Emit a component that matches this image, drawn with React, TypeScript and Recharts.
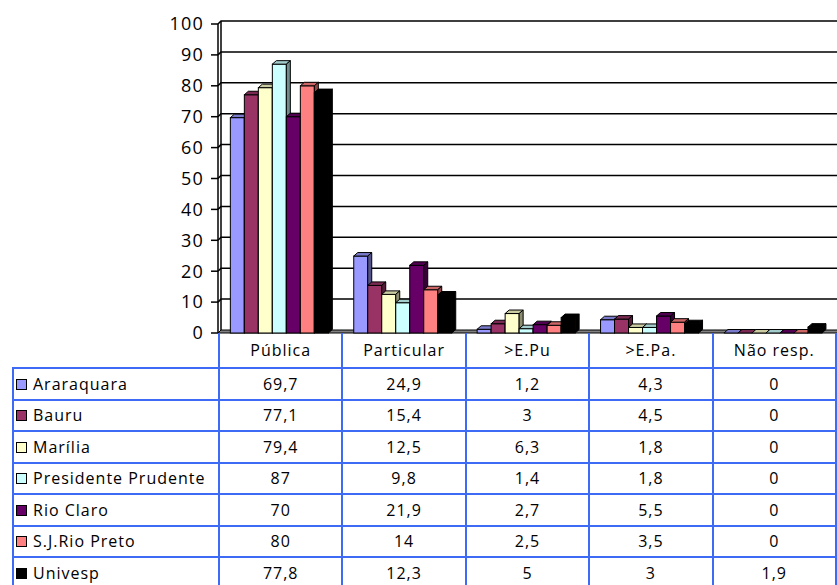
import React from "react";
import { BarChart, Bar, XAxis, YAxis, CartesianGrid } from "recharts";

const categories = ["Pública", "Particular", ">E.Pu", ">E.Pa.", "Não resp."];
const seriesNames = [
  "Araraquara",
  "Bauru",
  "Marília",
  "Presidente Prudente",
  "Rio Claro",
  "S.J.Rio Preto",
  "Univesp",
];
const araraquara = [69.7, 24.9, 1.2, 4.3, 0];
const bauru = [77.1, 15.4, 3, 4.5, 0];
const marilia = [79.4, 12.5, 6.3, 1.8, 0];
const presidentePrudente = [87, 9.8, 1.4, 1.8, 0];
const rioClaro = [70, 21.9, 2.7, 5.5, 0];
const sjRioPreto = [80, 14, 2.5, 3.5, 0];
const univesp = [77.8, 12.3, 5, 3, 1.9];
const yTicks = [0, 10, 20, 30, 40, 50, 60, 70, 80, 90, 100];

const seriesValues = [araraquara, bauru, marilia, presidentePrudente, rioClaro, sjRioPreto, univesp];
const COLORS = ["#9999FF", "#993366", "#FFFFCC", "#CCFFFF", "#660066", "#FF8080", "#000000"];

const data = categories.map((name, i) => {
  const row: Record<string, string | number> = { name };
  seriesNames.forEach((s, j) => {
    row[s] = seriesValues[j][i];
  });
  return row;
});

const W = 837;
const CHART_H = 345;
const TOP = 24;
const BOTTOM = 12;
const LEFT = 218;
const DX = 3;
const DY = 3;
const FONT = "'Open Sans', sans-serif";
const BLUE = "#3d6bf5";

function shade(hex: string, k: number) {
  const n = parseInt(hex.slice(1), 16);
  const r = Math.round(((n >> 16) & 255) * k);
  const g = Math.round(((n >> 8) & 255) * k);
  const b = Math.round((n & 255) * k);
  return `rgb(${r},${g},${b})`;
}

function Box3D(props: any) {
  const { x, y, width: w, height: h, color } = props;
  if (x == null || y == null) return null;
  const d = 4;
  const e = 3.5;
  return (
    <g>
      <rect x={x} y={y} width={w} height={Math.max(h, 0)} fill={color} stroke="#000" strokeWidth={1} />
      <polygon
        points={`${x},${y} ${x + d},${y - e} ${x + w + d},${y - e} ${x + w},${y}`}
        fill={shade(color, 0.8)}
        stroke="#000"
        strokeWidth={1}
      />
      <polygon
        points={`${x + w},${y} ${x + w + d},${y - e} ${x + w + d},${y + h - e} ${x + w},${y + h}`}
        fill={shade(color, 0.55)}
        stroke="#000"
        strokeWidth={1}
      />
    </g>
  );
}

function GridLine(props: any) {
  const { x1, x2, y1, key } = props;
  const plotH = CHART_H - TOP - BOTTOM;
  const isFloor = Math.abs(y1 - (TOP + plotH)) < 1;
  if (isFloor) {
    return (
      <g key={key}>
        <polygon
          points={`${x1},${y1} ${x1 + DX},${y1 - DY} ${x2 + DX},${y1 - DY} ${x2 + DX},${y1}`}
          fill="#808080"
          stroke="#000"
          strokeWidth={1}
        />
        <line x1={x1 + DX} y1={y1 - DY} x2={x1 + DX} y2={TOP - DY} stroke="#000" strokeWidth={1.5} />
      </g>
    );
  }
  return (
    <polyline
      key={key}
      points={`${x1},${y1} ${x1 + DX},${y1 - DY} ${x2 + DX},${y1 - DY}`}
      fill="none"
      stroke="#000"
      strokeWidth={1.5}
    />
  );
}

const fmt = (v: number) => String(v).replace(".", ",");

const cellStyle: React.CSSProperties = {
  border: `2px solid ${BLUE}`,
  textAlign: "center",
  padding: 0,
  fontSize: 16,
  letterSpacing: 1,
};

export default function App() {
  const colW = (W - 2 - LEFT) / categories.length;
  return (
    <div
      style={{
        position: "absolute",
        left: 0,
        top: 0,
        width: W,
        height: 585,
        overflow: "hidden",
        background: "#fff",
        fontFamily: FONT,
        color: "#000",
      }}
    >
      <BarChart
        width={W}
        height={CHART_H}
        data={data}
        margin={{ top: TOP, right: 2, bottom: BOTTOM, left: 0 }}
        barCategoryGap="10%"
        barGap={0}
      >
        <CartesianGrid vertical={false} horizontal={GridLine} />
        <XAxis dataKey="name" hide />
        <YAxis
          domain={[0, 100]}
          ticks={yTicks}
          width={LEFT}
          interval={0}
          axisLine={{ stroke: "#000", strokeWidth: 1.5 }}
          tickLine={{ stroke: "#000", strokeWidth: 1.5 }}
          tickSize={7}
          tickMargin={7}
          tick={{ fill: "#000", fontSize: 18, fontFamily: FONT, letterSpacing: 1.2 }}
        />
        {seriesNames.map((s, j) => (
          <Bar
            key={s}
            dataKey={s}
            fill={COLORS[j]}
            isAnimationActive={false}
            shape={(p: any) => <Box3D {...p} color={COLORS[j]} />}
          />
        ))}
      </BarChart>
      <table
        style={{
          position: "absolute",
          left: 12,
          top: 333,
          borderCollapse: "collapse",
          tableLayout: "fixed",
          width: W - 2 - 12,
          fontFamily: FONT,
        }}
      >
        <colgroup>
          <col style={{ width: LEFT - 12 }} />
          {categories.map((c) => (
            <col key={c} style={{ width: colW }} />
          ))}
        </colgroup>
        <tbody>
          <tr style={{ height: 35 }}>
            <td style={{ border: "none" }} />
            {categories.map((c) => (
              <td key={c} style={{ ...cellStyle, borderTop: "none" }}>
                {c}
              </td>
            ))}
          </tr>
          {seriesNames.map((s, j) => (
            <tr key={s} style={{ height: 31.5 }}>
              <td style={{ ...cellStyle, textAlign: "left", whiteSpace: "nowrap" }}>
                <span
                  style={{
                    display: "inline-block",
                    width: 9,
                    height: 9,
                    background: COLORS[j],
                    border: "1px solid #000",
                    marginLeft: 2,
                    marginRight: 6,
                    verticalAlign: "middle",
                    position: "relative",
                    top: -1,
                  }}
                />
                {s}
              </td>
              {seriesValues[j].map((v, i) => (
                <td key={i} style={cellStyle}>
                  {fmt(v)}
                </td>
              ))}
            </tr>
          ))}
        </tbody>
      </table>
    </div>
  );
}
